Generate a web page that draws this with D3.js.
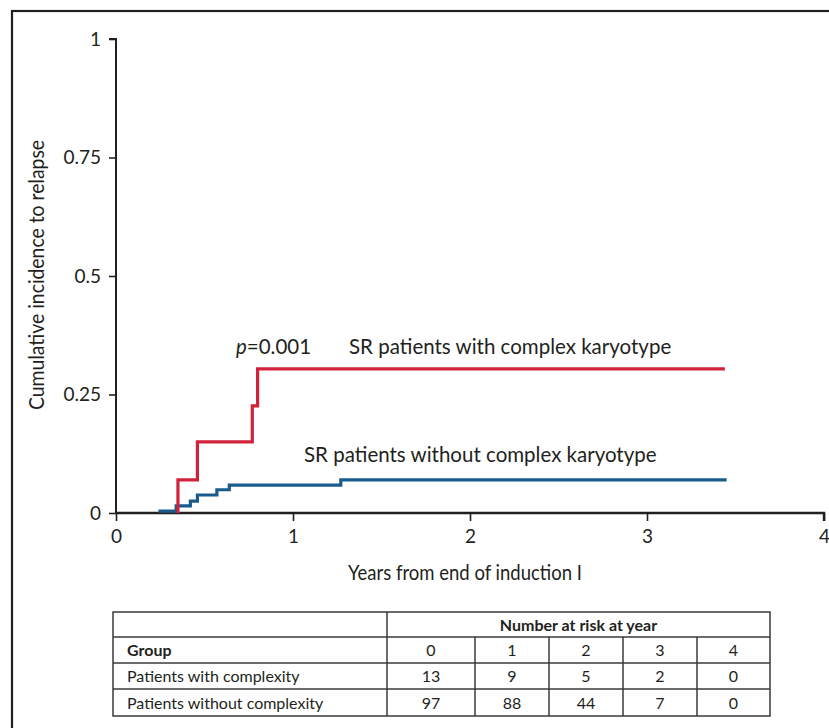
<!DOCTYPE html>
<html>
<head>
<meta charset="utf-8">
<script src="https://cdn.jsdelivr.net/npm/d3@7"></script>
<style>
  body { margin: 0; background: #fff; }
  svg { display: block; }
  .tick text { font-family: Lato, "Open Sans", sans-serif; }
</style>
</head>
<body>
<div id="chart"></div>
<script>
// years on the x axis
const yearTicks = [0, 1, 2, 3, 4];
const yTicks = [0, 0.25, 0.5, 0.75, 1];
const yTickLabels = ['0', '0.25', '0.5', '0.75', '1'];

// step curve: SR patients with complex karyotype
const complexTime = [0.35, 0.35, 0.46, 0.77, 0.80, 3.44];
const complexValue = [0, 0.07, 0.15, 0.226, 0.304, 0.304];

// step curve: SR patients without complex karyotype
const noComplexTime = [0.24, 0.34, 0.42, 0.46, 0.57, 0.64, 1.27, 3.45];
const noComplexValue = [0.004, 0.015, 0.025, 0.038, 0.049, 0.059, 0.07, 0.07];

// number at risk table
const riskGroups = ['Patients with complexity', 'Patients without complexity'];
const riskYears = ['0', '1', '2', '3', '4'];
const riskWithComplexity = [13, 9, 5, 2, 0];
const riskWithoutComplexity = [97, 88, 44, 7, 0];

const W = 829, H = 728;
const svg = d3.select('#chart').append('svg')
  .attr('width', W)
  .attr('height', H);

// outer frame (cut by the page at right and bottom)
svg.append('rect')
  .attr('x', 12).attr('y', 11)
  .attr('width', 900).attr('height', 800)
  .attr('fill', 'none')
  .attr('stroke', '#231f20')
  .attr('stroke-width', 2.2);

const x = d3.scaleLinear().domain([0, 4]).range([116, 824]);
const y = d3.scaleLinear().domain([0, 1]).range([513, 39]);

// y axis
const yAxis = svg.append('g')
  .attr('transform', `translate(${x(0)},0)`)
  .call(d3.axisLeft(y).tickValues(yTicks).tickSize(7).tickPadding(8)
    .tickFormat((d, i) => yTickLabels[i]));
yAxis.select('.domain').attr('stroke', '#231f20').attr('stroke-width', 2).attr('d', `M-7,${y(1)}H0V${y(0)}`);
yAxis.selectAll('.tick line').attr('stroke', '#231f20').attr('stroke-width', 1.6);
yAxis.selectAll('.tick text').attr('font-size', 19).attr('fill', '#231f20');

// x axis
const xAxis = svg.append('g')
  .attr('transform', `translate(0,${y(0)})`)
  .call(d3.axisBottom(x).tickValues(yearTicks).tickSize(8).tickPadding(9).tickFormat(d3.format('d')));
xAxis.select('.domain').attr('stroke', '#231f20').attr('stroke-width', 2.4).attr('d', `M${x(0)},0H${x(4)}V8`);
xAxis.selectAll('.tick line').attr('stroke', '#231f20').attr('stroke-width', 1.6);
xAxis.selectAll('.tick text').attr('font-size', 19).attr('fill', '#231f20');

// axis titles (condensed face in the original, squeezed to its width)
svg.append('text')
  .attr('x', 348).attr('y', 580)
  .attr('font-family', 'Lato, "Open Sans", sans-serif')
  .attr('font-size', 21)
  .attr('textLength', 234)
  .attr('lengthAdjust', 'spacingAndGlyphs')
  .attr('fill', '#231f20')
  .text('Years from end of induction I');

svg.append('text')
  .attr('transform', 'translate(44,410) rotate(-90)')
  .attr('font-family', 'Lato, "Open Sans", sans-serif')
  .attr('font-size', 21)
  .attr('textLength', 270)
  .attr('lengthAdjust', 'spacingAndGlyphs')
  .attr('fill', '#231f20')
  .text('Cumulative incidence to  relapse');

// curves
const line = d3.line()
  .x(d => x(d[0]))
  .y(d => y(d[1]))
  .curve(d3.curveStepAfter);

svg.append('path')
  .datum(d3.zip(noComplexTime, noComplexValue))
  .attr('d', line)
  .attr('fill', 'none')
  .attr('stroke', '#1a5b8e')
  .attr('stroke-width', 3.2);

svg.append('path')
  .datum(d3.zip(complexTime, complexValue))
  .attr('d', line)
  .attr('fill', 'none')
  .attr('stroke', '#d0223b')
  .attr('stroke-width', 3.2);

// annotations
const ann = svg.append('g')
  .attr('font-family', 'Lato, "Open Sans", sans-serif')
  .attr('font-size', 20.5)
  .attr('fill', '#231f20');

const pText = ann.append('text').attr('x', 236).attr('y', 354);
pText.append('tspan').attr('font-style', 'italic').text('p');
pText.append('tspan').text('=0.001');

ann.append('text').attr('x', 349).attr('y', 354).text('SR patients with complex karyotype');
ann.append('text').attr('x', 304).attr('y', 462).text('SR patients without complex karyotype');

// number at risk table
const colEdges = [113, 387, 475, 549, 623, 697, 770];
const rowEdges = [612, 637, 663, 689, 716];
const tbl = svg.append('g')
  .attr('font-family', 'Lato, "Open Sans", sans-serif')
  .attr('font-size', 16)
  .attr('fill', '#231f20');

const border = { stroke: '#3a3a3a', width: 1.5 };
tbl.append('rect')
  .attr('x', colEdges[0]).attr('y', rowEdges[0])
  .attr('width', colEdges[6] - colEdges[0])
  .attr('height', rowEdges[4] - rowEdges[0])
  .attr('fill', 'none')
  .attr('stroke', border.stroke).attr('stroke-width', border.width);

// horizontal rules
tbl.selectAll('.hrule')
  .data(rowEdges.slice(1, 4))
  .enter().append('line')
  .attr('x1', colEdges[0]).attr('x2', colEdges[6])
  .attr('y1', d => d).attr('y2', d => d)
  .attr('stroke', border.stroke).attr('stroke-width', border.width);

// vertical rules
tbl.append('line')
  .attr('x1', colEdges[1]).attr('x2', colEdges[1])
  .attr('y1', rowEdges[0]).attr('y2', rowEdges[4])
  .attr('stroke', border.stroke).attr('stroke-width', border.width);
tbl.selectAll('.vrule')
  .data(colEdges.slice(2, 6))
  .enter().append('line')
  .attr('x1', d => d).attr('x2', d => d)
  .attr('y1', rowEdges[1]).attr('y2', rowEdges[4])
  .attr('stroke', border.stroke).attr('stroke-width', border.width);

const rowMid = i => (rowEdges[i] + rowEdges[i + 1]) / 2 + 6;
const colMid = j => (colEdges[j + 1] + colEdges[j + 2]) / 2;

tbl.append('text')
  .attr('x', (colEdges[1] + colEdges[6]) / 2).attr('y', rowMid(0))
  .attr('text-anchor', 'middle').attr('font-weight', 'bold')
  .text('Number at risk at year');

tbl.append('text')
  .attr('x', colEdges[0] + 14).attr('y', rowMid(1))
  .attr('font-weight', 'bold')
  .text('Group');

tbl.selectAll('.yr')
  .data(riskYears)
  .enter().append('text')
  .attr('x', (d, j) => colMid(j)).attr('y', rowMid(1))
  .attr('text-anchor', 'middle')
  .text(d => d);

[riskWithComplexity, riskWithoutComplexity].forEach((vals, r) => {
  tbl.append('text')
    .attr('x', colEdges[0] + 14).attr('y', rowMid(r + 2))
    .text(riskGroups[r]);
  vals.forEach((v, j) => {
    tbl.append('text')
      .attr('x', colMid(j)).attr('y', rowMid(r + 2))
      .attr('text-anchor', 'middle')
      .text(v);
  });
});
</script>
</body>
</html>
